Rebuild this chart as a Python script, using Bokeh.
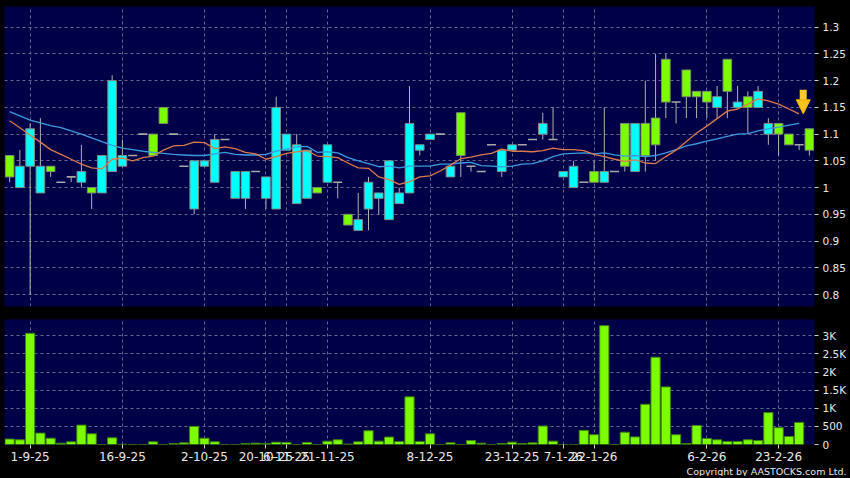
from bokeh.plotting import figure
from bokeh.models import (ColumnDataSource, FixedTicker, Arrow, NormalHead, Title,
                          Range1d, Grid)
from bokeh.layouts import column
from bokeh.embed import file_html
from bokeh.resources import INLINE

# ---------------- data ----------------
opens = [1.06, 1.00, 1.04, 0.99, 1.04, 1.01, 1.02, 1.01, 1.00, 0.99,
         1.03, 1.04, 1.06, 1.10, 1.10, 1.15, 1.10, 1.04, 0.96, 1.04,
         1.01, 1.09, 0.98, 0.98, 1.03, 0.98, 0.96, 1.07, 0.97, 0.98,
         1.00, 1.01, 1.01, 0.95, 0.92, 0.96, 0.98, 0.94, 0.97, 0.99,
         1.07, 1.09, 1.10, 1.02, 1.14, 1.04, 1.03, 1.08, 1.03, 1.07,
         1.08, 1.09, 1.10, 1.09, 1.02, 1.00, 1.01, 1.03, 1.01, 1.03,
         1.12, 1.03, 1.12, 1.13, 1.24, 1.16, 1.22, 1.18, 1.18, 1.15,
         1.24, 1.15, 1.17, 1.15, 1.10, 1.12, 1.10, 1.08, 1.11]
highs = [1.06, 1.07, 1.12, 1.13, 1.04, 1.01, 1.02, 1.08, 1.00, 1.06,
         1.21, 1.09, 1.06, 1.10, 1.10, 1.15, 1.10, 1.04, 1.05, 1.05,
         1.10, 1.09, 1.03, 1.03, 1.03, 1.02, 1.17, 1.10, 1.10, 1.07,
         1.00, 1.08, 1.01, 0.95, 0.99, 1.02, 0.99, 1.05, 1.00, 1.19,
         1.08, 1.10, 1.10, 1.04, 1.14, 1.04, 1.03, 1.08, 1.07, 1.08,
         1.08, 1.09, 1.14, 1.15, 1.03, 1.05, 1.01, 1.05, 1.15, 1.03,
         1.12, 1.12, 1.20, 1.25, 1.25, 1.16, 1.22, 1.18, 1.18, 1.19,
         1.24, 1.19, 1.18, 1.19, 1.13, 1.12, 1.10, 1.08, 1.11]
lows = [1.01, 1.00, 0.80, 0.99, 1.02, 1.01, 1.01, 1.00, 0.96, 0.99,
        1.03, 1.04, 1.06, 1.10, 1.06, 1.12, 1.10, 1.04, 0.95, 1.04,
        1.01, 1.09, 0.98, 0.96, 1.03, 0.96, 0.96, 1.07, 0.97, 0.98,
        0.99, 1.01, 0.98, 0.93, 0.92, 0.92, 0.95, 0.94, 0.97, 0.99,
        1.06, 1.09, 1.10, 1.02, 1.02, 1.03, 1.03, 1.08, 1.02, 1.07,
        1.08, 1.09, 1.09, 1.09, 1.02, 1.00, 1.01, 1.01, 1.01, 1.03,
        1.03, 1.03, 1.03, 1.05, 1.13, 1.12, 1.13, 1.13, 1.13, 1.13,
        1.13, 1.15, 1.10, 1.15, 1.08, 1.06, 1.08, 1.07, 1.06]
closes = [1.02, 1.04, 1.11, 1.04, 1.03, 1.01, 1.02, 1.03, 0.99, 1.06,
          1.20, 1.06, 1.06, 1.10, 1.06, 1.12, 1.10, 1.04, 1.05, 1.05,
          1.09, 1.09, 1.03, 1.03, 1.03, 1.02, 1.15, 1.10, 1.08, 1.07,
          0.99, 1.08, 1.01, 0.93, 0.94, 1.01, 0.99, 1.05, 0.99, 1.12,
          1.08, 1.10, 1.10, 1.04, 1.06, 1.04, 1.03, 1.08, 1.07, 1.08,
          1.08, 1.09, 1.12, 1.09, 1.03, 1.04, 1.01, 1.01, 1.03, 1.03,
          1.04, 1.12, 1.06, 1.08, 1.16, 1.16, 1.17, 1.17, 1.16, 1.17,
          1.18, 1.16, 1.15, 1.18, 1.12, 1.10, 1.08, 1.08, 1.07]
volumes = [150, 130, 3070, 315, 175, 35, 75, 535, 295, 0,
           185, 5, 0, 0, 75, 0, 28, 45, 500, 175,
           75, 0, 0, 28, 37, 28, 65, 55, 0, 55,
           0, 93, 130, 10, 75, 380, 93, 205, 85, 1315,
           85, 295, 0, 45, 0, 110, 37, 0, 28, 65,
           28, 45, 510, 93, 0, 0, 390, 270, 3280, 0,
           340, 210, 1110, 2410, 1590, 270, 28, 525, 165, 130,
           85, 85, 130, 110, 880, 465, 220, 610]
ma10 = [1.125, 1.112, 1.098, 1.085, 1.071, 1.062, 1.053, 1.044, 1.037, 1.035,
        1.053, 1.055, 1.050, 1.056, 1.059, 1.070, 1.078, 1.079, 1.085, 1.084,
        1.073, 1.076, 1.073, 1.066, 1.063, 1.053, 1.058, 1.064, 1.067, 1.069,
        1.059, 1.058, 1.056, 1.046, 1.037, 1.036, 1.020, 1.015, 1.006, 1.011,
        1.020, 1.022, 1.031, 1.042, 1.054, 1.057, 1.061, 1.064, 1.072, 1.068,
        1.068, 1.067, 1.069, 1.074, 1.071, 1.071, 1.069, 1.062, 1.058, 1.053,
        1.049, 1.052, 1.046, 1.045, 1.058, 1.070, 1.086, 1.102, 1.115, 1.129,
        1.143, 1.147, 1.156, 1.166, 1.162, 1.156, 1.147, 1.138]
ma20 = [1.142, 1.134, 1.126, 1.121, 1.116, 1.112, 1.106, 1.100, 1.093, 1.086,
        1.079, 1.074, 1.071, 1.068, 1.066, 1.064, 1.062, 1.061, 1.060, 1.060,
        1.063, 1.066, 1.062, 1.061, 1.061, 1.062, 1.068, 1.072, 1.076, 1.077,
        1.066, 1.067, 1.065, 1.056, 1.050, 1.045, 1.039, 1.040, 1.037, 1.040,
        1.040, 1.040, 1.044, 1.044, 1.046, 1.047, 1.041, 1.040, 1.039, 1.040,
        1.044, 1.045, 1.050, 1.058, 1.063, 1.064, 1.065, 1.063, 1.065, 1.061,
        1.059, 1.060, 1.058, 1.060, 1.065, 1.071, 1.078, 1.082, 1.087, 1.091,
        1.096, 1.100, 1.101, 1.106, 1.110, 1.113, 1.117, 1.120]

price_ticks = [0.8, 0.85, 0.9, 0.95, 1.0, 1.05, 1.1, 1.15, 1.2, 1.25, 1.3]
price_tick_labels = ["0.8", "0.85", "0.9", "0.95", "1", "1.05", "1.1", "1.15", "1.2", "1.25", "1.3"]
vol_ticks = [0, 500, 1000, 1500, 2000, 2500, 3000]
vol_tick_labels = ["0", "500", "1K", "1.5K", "2K", "2.5K", "3K"]
date_tick_pos = [3, 12, 20, 26, 28, 32, 42, 50, 55, 58, 69, 76]
date_tick_labels = ["1-9-25", "16-9-25", "2-10-25", "20-10-25", "6-11-25", "21-11-25",
                    "8-12-25", "23-12-25", "7-1-26", "22-1-26", "6-2-26", "23-2-26"]
copyright_text = "Copyright by AASTOCKS.com Ltd."

# ---------------- styles ----------------
NAVY = "#000048"
CYAN = "#00FFFF"
GREEN = "#7CFC00"
GRID = "#66668e"
TXT = "#e8e8e8"
FONT = "DejaVu Sans"

n = len(closes)
idx = list(range(1, n + 1))

up = dict(x=[], top=[], bottom=[])
dn = dict(x=[], top=[], bottom=[])
flat = dict(x=[], y=[])
for i, o, c in zip(idx, opens, closes):
    if round(c - o, 4) > 0:
        up["x"].append(i); up["top"].append(c); up["bottom"].append(o)
    elif round(c - o, 4) < 0:
        dn["x"].append(i); dn["top"].append(o); dn["bottom"].append(c)
    else:
        flat["x"].append(i); flat["y"].append(c)

xr = Range1d(0.5, 79.5)

# ---------------- price panel ----------------
p = figure(frame_width=810, frame_height=300, x_range=xr, y_range=Range1d(0.7776, 1.3387),
           output_backend="svg", toolbar_location=None, x_axis_location=None,
           y_axis_location="right", min_border_left=4, min_border_top=6,
           min_border_bottom=13, min_border_right=36,
           background_fill_color=NAVY, border_fill_color="black", outline_line_color=None)
p.grid.visible = False
p.add_layout(Grid(dimension=0, ticker=FixedTicker(ticks=date_tick_pos), grid_line_color=GRID,
                  grid_line_dash="3 3", grid_line_width=1))
p.add_layout(Grid(dimension=1, ticker=FixedTicker(ticks=price_ticks), grid_line_color=GRID,
                  grid_line_dash="3 3", grid_line_width=1))

p.segment(x0=idx, y0=highs, x1=idx, y1=lows, line_color="#b0b0b0", line_width=1)
p.vbar(x="x", top="top", bottom="bottom", width=0.84, source=ColumnDataSource(up),
       fill_color=CYAN, line_color="#7a8c8c", line_width=1)
p.vbar(x="x", top="top", bottom="bottom", width=0.84, source=ColumnDataSource(dn),
       fill_color=GREEN, line_color="#7a8c6a", line_width=1)
p.scatter(x="x", y="y", source=ColumnDataSource(flat), marker="dash", size=9,
          line_color="#a8a8a8", line_width=1.6)

p.line(x=idx[:len(ma20)], y=ma20, line_color="#3c9ae0", line_width=1.3)
p.line(x=idx[:len(ma10)], y=ma10, line_color="#d97a4e", line_width=1.3)

last_i = len(ma10)
p.add_layout(Arrow(end=NormalHead(size=14, fill_color="#f6c21c", line_color="#f0b000", line_width=1),
                   x_start=idx[last_i - 1] + 0.4, y_start=ma10[-1] + 0.045,
                   x_end=idx[last_i - 1] + 0.4, y_end=ma10[-1],
                   line_color="#f8cc30", line_width=7))

ya = p.yaxis[0]
ya.ticker = FixedTicker(ticks=price_ticks)
ya.major_label_overrides = dict(zip(price_ticks, price_tick_labels))

# ---------------- volume panel ----------------
v = figure(frame_width=810, frame_height=125, x_range=xr, y_range=Range1d(0, 3450),
           output_backend="svg", toolbar_location=None, y_axis_location="right",
           min_border_left=4, min_border_top=0, min_border_bottom=0, min_border_right=36,
           background_fill_color=NAVY, border_fill_color="black", outline_line_color=None)
v.grid.visible = False
v.add_layout(Grid(dimension=0, ticker=FixedTicker(ticks=date_tick_pos), grid_line_color=GRID,
                  grid_line_dash="3 3", grid_line_width=1))
v.add_layout(Grid(dimension=1, ticker=FixedTicker(ticks=vol_ticks), grid_line_color=GRID,
                  grid_line_dash="3 3", grid_line_width=1))
v.vbar(x=idx[:len(volumes)], top=volumes, width=0.9, fill_color=GREEN,
       line_color="#3f7f10", line_width=1)

va = v.yaxis[0]
va.ticker = FixedTicker(ticks=vol_ticks)
va.major_label_overrides = dict(zip(vol_ticks, vol_tick_labels))

xa = v.xaxis[0]
xa.ticker = FixedTicker(ticks=date_tick_pos)
xa.major_label_overrides = dict(zip(date_tick_pos, date_tick_labels))

for ax, fs in ((ya, "10.5px"), (va, "10.5px"), (xa, "12px")):
    ax.axis_line_color = None
    ax.major_tick_line_color = "#d0d0d0"
    ax.major_tick_out = 4
    ax.major_tick_in = 0
    ax.minor_tick_line_color = None
    ax.major_label_text_color = TXT
    ax.major_label_text_font = FONT
    ax.major_label_text_font_size = fs
    ax.major_label_standoff = 4
xa.major_label_standoff = 3

v.add_layout(Title(text=copyright_text, align="right", text_font=FONT, text_font_size="9.5px",
                   text_font_style="normal", text_color=TXT, standoff=0, offset=-32), "below")

layout = column(p, v, spacing=0, styles={"background-color": "black"})
try:
    from bokeh.models import GlobalInlineStyleSheet
    layout.stylesheets = [GlobalInlineStyleSheet(css="html, body { background-color: #000000; overflow: hidden; }")]
except Exception:
    pass

open("out.html", "w").write(file_html(layout, INLINE))
